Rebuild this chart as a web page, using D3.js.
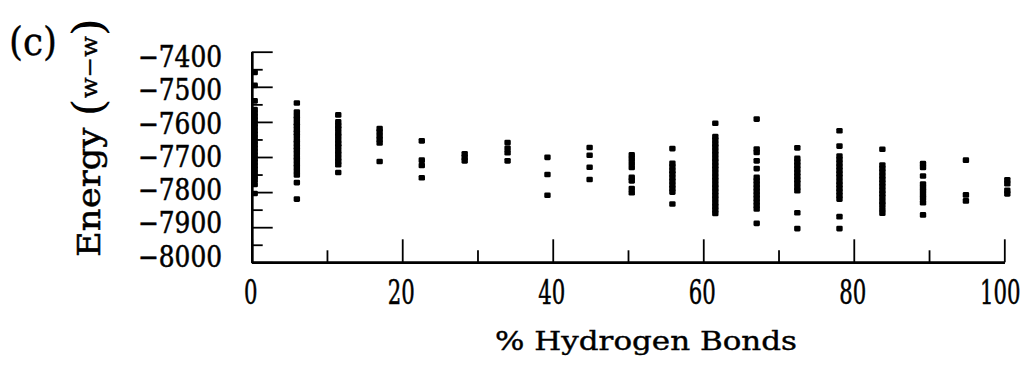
<!DOCTYPE html>
<html>
<head>
<meta charset="utf-8">
<script src="https://cdn.jsdelivr.net/npm/d3@7"></script>
<style>
  html, body { margin: 0; padding: 0; background: #fff; }
  svg { display: block; }
  .serif { font-family: 'DejaVu Serif Condensed', 'DejaVu Serif', serif; }
  .dserif { font-family: 'DejaVu Serif', serif; }
</style>
</head>
<body>
<svg id="chart" width="1032" height="372"></svg>
<script>
// ---- data ----
const hbPercent = [0.4, 6.0, 11.5, 17.0, 22.6, 28.3, 34.0, 39.3, 44.9, 50.5, 55.9, 61.6, 67.1, 72.5, 78.1, 83.8, 89.2, 94.9, 100.4];
const energyByColumn = [
  [-7459, -7496, -7540, -7565, -7575, -7585, -7595, -7605, -7615, -7625, -7635, -7645, -7655, -7665, -7675, -7685, -7695, -7705, -7715, -7725, -7735, -7745, -7755, -7765, -7778, -7804],
  [-7546, -7572, -7583, -7592, -7603, -7611, -7622, -7631, -7640, -7652, -7660, -7671, -7680, -7690, -7701, -7709, -7720, -7729, -7740, -7751, -7773, -7820],
  [-7580, -7600, -7611, -7620, -7632, -7641, -7652, -7662, -7671, -7683, -7692, -7703, -7712, -7722, -7744],
  [-7619, -7628, -7640, -7650, -7660, -7713],
  [-7654, -7709, -7724, -7759],
  [-7691, -7701, -7711],
  [-7659, -7675, -7688, -7711],
  [-7701, -7750, -7809],
  [-7673, -7695, -7729, -7764],
  [-7694, -7706, -7718, -7730, -7758, -7768, -7790, -7802],
  [-7676, -7718, -7728, -7739, -7748, -7759, -7769, -7780, -7790, -7800, -7834],
  [-7604, -7642, -7652, -7663, -7672, -7683, -7693, -7704, -7714, -7725, -7735, -7746, -7757, -7767, -7778, -7788, -7799, -7810, -7820, -7831, -7841, -7851, -7861],
  [-7592, -7677, -7687, -7711, -7733, -7758, -7768, -7778, -7788, -7798, -7808, -7818, -7828, -7838, -7848, -7889],
  [-7674, -7704, -7714, -7724, -7734, -7745, -7755, -7765, -7775, -7786, -7796, -7859, -7904],
  [-7625, -7669, -7697, -7707, -7717, -7728, -7738, -7748, -7758, -7769, -7779, -7789, -7799, -7810, -7820, -7870, -7904],
  [-7678, -7723, -7733, -7743, -7754, -7764, -7774, -7784, -7795, -7805, -7815, -7826, -7836, -7849, -7860],
  [-7719, -7730, -7754, -7777, -7787, -7797, -7808, -7818, -7830, -7865],
  [-7709, -7808, -7825],
  [-7765, -7776, -7795, -7805]
];
const xMajorTicks = [0, 20, 40, 60, 80, 100];
const xMinorTicks = [10, 30, 50, 70, 90];
const yMajorTicks = [-7400, -7500, -7600, -7700, -7800, -7900, -8000];
const yMinorTicks = [-7450, -7550, -7650, -7750, -7850, -7950];
const xTitle = "% Hydrogen Bonds";
const yTitleMain = "Energy ";
const yTitleUnit = ["(", "w\u2212w", ")"];
const panelLabel = "(c)";

// ---- drawing ----
const svg = d3.select("#chart");
const x = d3.scaleLinear().domain([0, 100]).range([251.7, 1004.3]);
const y = d3.scaleLinear().domain([-8000, -7400]).range([262.3, 51.7]);
// tick labels in the reference sit slightly compressed relative to the ticks
const yLabel = d3.scaleLinear().domain([-8000, -7400]).range([256, 56.7]);

const points = [];
hbPercent.forEach((h, i) => energyByColumn[i].forEach(e => points.push({h, e})));

svg.append("g").selectAll("rect").data(points).join("rect")
  .attr("x", d => x(d.h) - 3.2)
  .attr("y", d => y(d.e) - 2.8)
  .attr("width", 6.4).attr("height", 5.6)
  .attr("rx", 1.3)
  .attr("fill", "#000");

function styleAxis(g, w) {
  g.selectAll("path.domain").attr("stroke", "#000").attr("stroke-width", w);
  g.selectAll(".tick line").attr("stroke", "#000").attr("stroke-width", 1.8);
  g.selectAll(".tick text").remove();
}

svg.append("g").attr("transform", `translate(${x(0)},0)`)
  .call(d3.axisLeft(y).tickValues(yMinorTicks).tickSizeInner(-11).tickSizeOuter(0).tickFormat(""))
  .call(g => styleAxis(g, 2.4));
svg.append("g").attr("transform", `translate(${x(0)},0)`)
  .call(d3.axisLeft(y).tickValues(yMajorTicks).tickSizeInner(-21).tickSizeOuter(0).tickFormat(""))
  .call(g => styleAxis(g, 2.4));

svg.append("g").attr("transform", `translate(0,${y(-8000)})`)
  .call(d3.axisBottom(x).tickValues(xMinorTicks).tickSizeInner(-12).tickSizeOuter(0).tickFormat(""))
  .call(g => styleAxis(g, 2.4));
svg.append("g").attr("transform", `translate(0,${y(-8000)})`)
  .call(d3.axisBottom(x).tickValues(xMajorTicks).tickSizeInner(-23).tickSizeOuter(0).tickFormat(""))
  .call(g => styleAxis(g, 2.4));

// y tick labels
svg.append("g").selectAll("text").data(yMajorTicks).join("text")
  .attr("class", "serif")
  .attr("x", 222)
  .attr("y", d => yLabel(d) + 10.5)
  .attr("text-anchor", "end")
  .attr("font-size", 29)
  .attr("textLength", 84).attr("lengthAdjust", "spacingAndGlyphs")
  .attr("fill", "#000")
  .attr("stroke", "#000").attr("stroke-width", 0.5)
  .text(d => "\u2212" + Math.abs(d));

// x tick labels (tall, condensed digits)
svg.append("g").selectAll("text").data(xMajorTicks).join("text")
  .attr("class", "serif")
  .attr("x", d => x(d) - (d === 100 ? 4 : 1))
  .attr("y", 303.5)
  .attr("text-anchor", "middle")
  .attr("font-size", 33)
  .attr("textLength", d => String(d).length * 13.5)
  .attr("lengthAdjust", "spacingAndGlyphs")
  .attr("fill", "#000")
  .attr("stroke", "#000").attr("stroke-width", 0.5)
  .text(d => d);

// x title
svg.append("text")
  .attr("class", "dserif")
  .attr("x", 495).attr("y", 350)
  .attr("textLength", 302).attr("lengthAdjust", "spacingAndGlyphs")
  .attr("font-size", 26)
  .attr("fill", "#000")
  .attr("stroke", "#000").attr("stroke-width", 0.4)
  .text(xTitle);

// y title (rotated)
const yt = svg.append("text")
  .attr("transform", "translate(100,257) rotate(-90)")
  .attr("textLength", 239).attr("lengthAdjust", "spacingAndGlyphs")
  .attr("fill", "#000");
yt.append("tspan").attr("class", "dserif").attr("font-size", 32)
  .attr("stroke", "#000").attr("stroke-width", 0.5).text(yTitleMain);
yt.append("tspan").attr("class", "dserif").attr("font-size", 42).attr("dy", 3).text(yTitleUnit[0]);
yt.append("tspan").attr("class", "dserif").attr("font-size", 22).attr("dy", -6)
  .attr("stroke", "#000").attr("stroke-width", 0.4).text(yTitleUnit[1]);
yt.append("tspan").attr("class", "dserif").attr("font-size", 42).attr("dy", 6).text(yTitleUnit[2]);

// panel label
svg.append("text")
  .attr("class", "dserif")
  .attr("x", 9).attr("y", 55)
  .attr("font-size", 40)
  .attr("textLength", 48).attr("lengthAdjust", "spacingAndGlyphs")
  .attr("fill", "#000")
  .attr("stroke", "#000").attr("stroke-width", 0.4)
  .text(panelLabel);
</script>
</body>
</html>
